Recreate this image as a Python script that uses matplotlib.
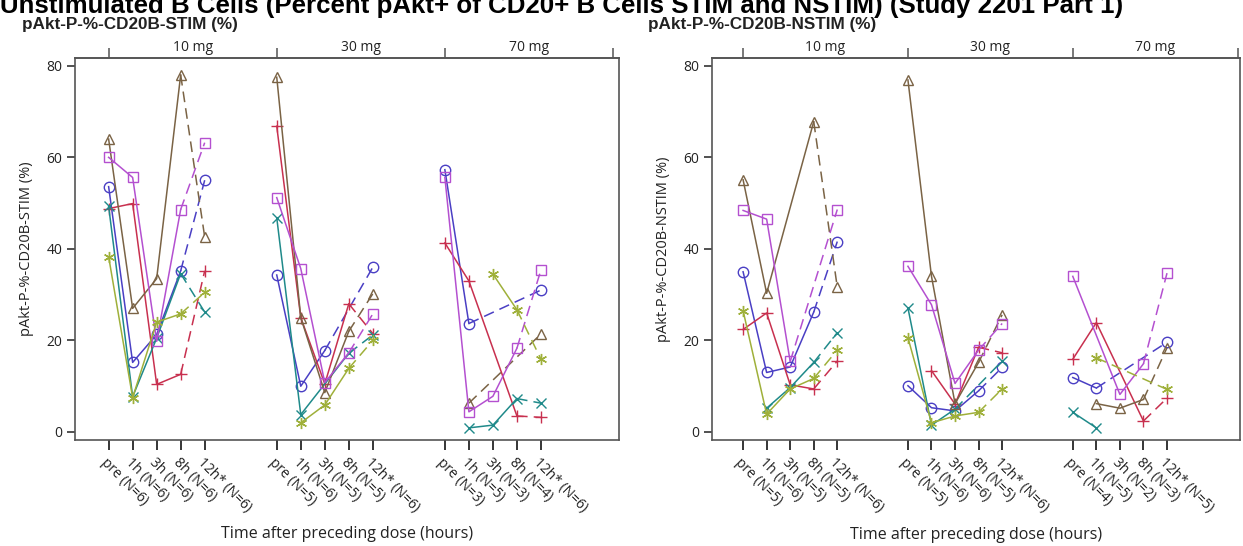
import numpy as np
import matplotlib
matplotlib.use("Agg")
import matplotlib.pyplot as plt
from matplotlib.transforms import blended_transform_factory

nan = np.nan

# ---- data ----
doses = ["10 mg", "30 mg", "70 mg"]
times = ["pre", "1h", "3h", "8h", "12h*"]

stim_n = [[6, 6, 6, 6, 6], [5, 6, 5, 5, 6], [3, 5, 3, 4, 6]]
nstim_n = [[5, 6, 5, 5, 6], [5, 6, 6, 5, 6], [4, 5, 2, 3, 5]]

# STIM values: 3 dose groups x 5 time points, per subject series
stim_circle = [53.6, 15.2, 21.3, 35.2, 55.0, 34.3, 10.0, 17.8, nan, 36.0, 57.3, 23.7, nan, nan, 31.0]
stim_plus = [48.8, 49.9, 10.4, 12.6, 35.2, 66.8, 25.0, 10.5, 28.0, 21.5, 41.3, 33.0, nan, 3.5, 3.2]
stim_x = [49.3, 7.7, 20.5, 34.6, 26.2, 46.8, 3.8, nan, 17.2, 21.2, nan, 0.9, 1.5, 7.3, 6.3]
stim_tri = [64.0, 27.0, 33.5, 78.0, 42.6, 77.5, 25.0, 8.6, 22.0, 30.2, nan, 6.3, nan, nan, 21.4]
stim_sq = [60.0, 55.6, 19.8, 48.6, 63.2, 51.2, 35.7, 10.8, 17.3, 25.8, 55.6, 4.4, 7.8, 18.3, 35.4]
stim_star = [38.3, 7.5, 24.0, 25.8, 30.5, nan, 2.0, 5.9, 13.9, 20.0, nan, nan, 34.5, 26.7, 15.9]

# NSTIM values
nstim_circle = [35.0, 13.0, 14.2, 26.2, 41.6, 10.1, 5.3, 4.6, 9.0, 14.1, 11.9, 9.6, nan, nan, 19.6]
nstim_plus = [22.4, 26.0, 10.3, 9.4, 15.5, nan, 13.4, 6.1, 18.5, 17.3, 15.9, 23.9, nan, 2.4, 7.4]
nstim_x = [nan, 5.2, 9.7, 15.2, 21.7, 27.1, 1.5, 5.0, nan, 15.5, 4.3, 0.9, nan, nan, nan]
nstim_tri = [55.1, 30.3, nan, 67.8, 31.6, 76.9, 34.0, 6.2, 15.2, 25.6, nan, 6.2, 5.2, 7.1, 18.4]
nstim_sq = [48.4, 46.5, 15.4, nan, 48.6, 36.2, 27.8, 10.6, 17.9, 23.7, 34.0, nan, 8.2, 14.9, 34.7]
nstim_star = [26.5, 3.9, 9.4, 11.7, 17.9, 20.6, 2.0, 3.5, 4.3, 9.4, nan, 16.2, nan, nan, 9.3]

# ---- styles ----
series_style = [
    dict(marker="o", color="#4a3fc4", ms=7.5),
    dict(marker="+", color="#c8304f", ms=8),
    dict(marker="x", color="#1f8a8a", ms=7),
    dict(marker="^", color="#7a6345", ms=7),
    dict(marker="s", color="#b450d0", ms=7),
    dict(marker=(6, 2, 0), color="#9fb03a", ms=8),
]

plt.rcParams["font.family"] = ["Open Sans", "DejaVu Sans"]

fig = plt.figure(figsize=(12.43, 5.46), dpi=100)
W, H = 1243, 546

GAP = 7  # positions between dose groups


def panel(rect, xlim, data, nlist, ylabel):
    ax = fig.add_axes(rect)
    ax.set_xlim(*xlim)
    ax.set_ylim(-1.75, 81.7)
    pos = [g * GAP + k for g in range(len(doses)) for k in range(len(times))]
    for vals, st in zip(data, series_style):
        for g in range(len(doses)):
            xs = [g * GAP + k for k in range(len(times))]
            ys = vals[g * 5:(g + 1) * 5]
            sx = [x for x, y in zip(xs[:4], ys[:4]) if not np.isnan(y)]
            sy = [y for y in ys[:4] if not np.isnan(y)]
            kw = dict(color=st["color"], marker=st["marker"], ms=st["ms"],
                      mfc="none", mec=st["color"], mew=1.0, lw=1.1)
            if sx:
                ax.plot(sx, sy, ls="-", **kw)
            if not np.isnan(ys[4]):
                if sx:
                    ax.plot([sx[-1], xs[4]], [sy[-1], ys[4]], ls=(0, (7, 4)),
                            color=st["color"], lw=1.1)
                ax.plot([xs[4]], [ys[4]], ls="none", **kw)
    labels = []
    for g in range(len(doses)):
        for k, t in enumerate(times):
            labels.append(f"{t} (N={nlist[g][k]})")
    ax.set_xticks(pos)
    ax.set_xticklabels(labels, rotation=-45, ha="left", va="top",
                       rotation_mode="anchor", fontsize=10, color="#222222")
    ax.set_yticks([0, 20, 40, 60, 80])
    ax.tick_params(axis="y", labelsize=10, colors="#222222", length=6, width=1.1,
                   direction="out", pad=3)
    ax.tick_params(axis="x", length=7, width=1.1, direction="out", pad=4)
    for s in ax.spines.values():
        s.set_color("#555555")
        s.set_linewidth(1.2)
    sec = ax.secondary_xaxis("top")
    sec.set_xticks([g * GAP for g in range(len(doses) + 1)])
    sec.set_xticklabels([])
    sec.tick_params(length=7, width=1.1, direction="out", colors="#555555")
    sec.spines["top"].set_color("#555555")
    sec.spines["top"].set_linewidth(1.2)
    tr = blended_transform_factory(ax.transData, ax.transAxes)
    for g, d in enumerate(doses):
        ax.text(g * GAP + GAP / 2, 1.008, d, transform=tr, ha="center",
                va="bottom", fontsize=10, color="#222222")
    ax.set_ylabel(ylabel, fontsize=10.5, color="#222222", labelpad=9)
    ax.set_xlabel("Time after preceding dose (hours)", fontsize=11.5,
                  color="#222222", labelpad=8)
    return ax


ax1 = panel([75 / W, 106 / H, 544 / W, 382 / H], (-1.4, 21.25),
            [stim_circle, stim_plus, stim_x, stim_tri, stim_sq, stim_star],
            stim_n, "pAkt-P-%-CD20B-STIM (%)")
ax2 = panel([712 / W, 106 / H, 528 / W, 382 / H], (-1.32, 21.1),
            [nstim_circle, nstim_plus, nstim_x, nstim_tri, nstim_sq, nstim_star],
            nstim_n, "pAkt-P-%-CD20B-NSTIM (%)")

fig.text(0 / W, 1 - 13 / H,
         "Unstimulated B Cells (Percent pAkt+ of CD20+ B Cells STIM and NSTIM) (Study 2201 Part 1)",
         family=["Liberation Sans", "DejaVu Sans"], fontweight="bold", fontsize=18.6,
         ha="left", va="baseline", color="black")
fig.text(22 / W, 1 - 29 / H, "pAkt-P-%-CD20B-STIM (%)",
         family=["Liberation Sans", "DejaVu Sans"], fontweight="bold", fontsize=12.3,
         ha="left", va="baseline", color="#222222")
fig.text(648 / W, 1 - 29 / H, "pAkt-P-%-CD20B-NSTIM (%)",
         family=["Liberation Sans", "DejaVu Sans"], fontweight="bold", fontsize=12.3,
         ha="left", va="baseline", color="#222222")

fig.savefig("out.png", dpi=100, facecolor="white")
